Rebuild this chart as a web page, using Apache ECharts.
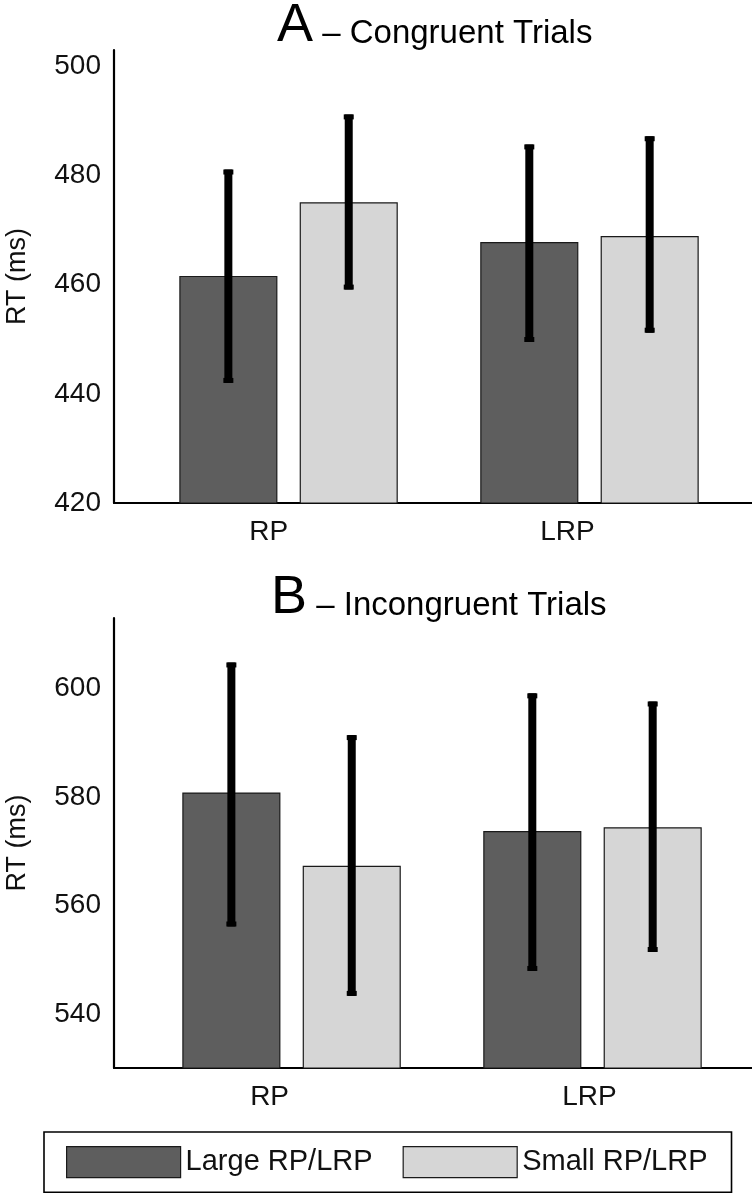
<!DOCTYPE html>
<html><head><meta charset="utf-8">
<script src="https://cdn.jsdelivr.net/npm/echarts@6/dist/echarts.min.js"></script>
<style>html,body{margin:0;padding:0;background:#fff}#c{width:752px;height:1199px}</style>
</head><body><div id="c"></div>
<script>
const categories = ['RP', 'LRP'];
const seriesNames = ['Large RP/LRP', 'Small RP/LRP'];
const congruentLarge = [461.5, 467.7];
const congruentSmall = [475.0, 468.8];
const congruentLargeErrLow = [442.0, 449.5];
const congruentLargeErrHigh = [481.1, 485.7];
const congruentSmallErrLow = [459.1, 451.2];
const congruentSmallErrHigh = [491.2, 487.2];
const incongruentLarge = [580.7, 573.6];
const incongruentSmall = [567.2, 574.3];
const incongruentLargeErrLow = [556.1, 547.9];
const incongruentLargeErrHigh = [604.8, 599.1];
const incongruentSmallErrLow = [543.3, 551.4];
const incongruentSmallErrHigh = [591.4, 597.6];
const congruentTicks = [420, 440, 460, 480, 500];
const incongruentTicks = [540, 560, 580, 600];

const FONT = "'Liberation Sans', Arial, Helvetica, sans-serif";
const DARK = '#5e5e5e', LIGHT = '#d6d6d6';
const BAR_W = 0.322, OFFSET = 0.2;

function rows(vals, lo, hi) {
  return vals.map((v, i) => [i + 1, v, lo[i], hi[i]]);
}
function makeRender(offset) {
  return function (params, api) {
    const x = api.value(0) + offset;
    const top = api.coord([x, api.value(1)]);
    const lo = api.coord([x, api.value(2)]);
    const hi = api.coord([x, api.value(3)]);
    const base = params.coordSys.y + params.coordSys.height;
    const w = api.size([BAR_W, 0])[0];
    return {
      type: 'group',
      children: [
        { type: 'rect', shape: { x: top[0] - w / 2, y: top[1], width: w, height: base - top[1] },
          style: { fill: api.visual('color'), stroke: '#1a1a1a', lineWidth: 1.2 } },
        { type: 'rect', shape: { x: top[0] - 4, y: hi[1], width: 8, height: lo[1] - hi[1] },
          style: { fill: '#000' } },
        { type: 'rect', shape: { x: top[0] - 5, y: hi[1], width: 10, height: 5 }, style: { fill: '#000' } },
        { type: 'rect', shape: { x: top[0] - 5, y: lo[1] - 5, width: 10, height: 5 }, style: { fill: '#000' } }
      ]
    };
  };
}
function xAxisCfg(idx, min, max, labelPos) {
  return {
    gridIndex: idx, type: 'value', min: min, max: max,
    axisLine: { show: true, onZero: false, lineStyle: { color: '#000', width: 2.2 } },
    axisTick: { show: false }, splitLine: { show: false },
    axisLabel: { customValues: labelPos, formatter: v => categories[Math.round(v) - 1],
      fontSize: 28, color: '#111', fontFamily: FONT, margin: 15 }
  };
}
function yAxisCfg(idx, min, max, ticks) {
  return {
    gridIndex: idx, type: 'value', min: min, max: max,
    axisLine: { show: true, onZero: false, lineStyle: { color: '#000', width: 2.2 } },
    axisTick: { show: false }, splitLine: { show: false },
    axisLabel: { customValues: ticks, fontSize: 28, color: '#111', fontFamily: FONT, margin: 13 },
    name: 'RT (ms)', nameLocation: 'middle', nameGap: 83,
    nameTextStyle: { fontSize: 27, color: '#111', fontFamily: FONT }
  };
}
function seriesCfg(name, idx, offset, color, data) {
  return {
    name: name, type: 'custom', xAxisIndex: idx, yAxisIndex: idx,
    itemStyle: { color: color }, renderItem: makeRender(offset),
    encode: { x: 0, y: 1 }, data: data, silent: true
  };
}
function titleRich() {
  return {
    big: { fontSize: 54, fontWeight: 'normal', fontFamily: FONT, color: '#000', verticalAlign: 'bottom' },
    small: { fontSize: 33, fontWeight: 'normal', fontFamily: FONT, color: '#000', verticalAlign: 'bottom', padding: [0, 0, 3, 0] }
  };
}

const chart = echarts.init(document.getElementById('c'), null, { renderer: 'canvas' });
chart.setOption({
  animation: false,
  backgroundColor: '#fff',
  title: [
    { text: '{big|A}{small| – Congruent Trials}', left: 272, top: -6,
      textStyle: { fontWeight: 'normal', rich: titleRich() } },
    { text: '{big|B}{small| – Incongruent Trials}', left: 266, top: 566,
      textStyle: { fontWeight: 'normal', rich: titleRich() } }
  ],
  legend: {
    left: 44, top: 1132,
    data: [
      { name: seriesNames[0], icon: 'rect', itemStyle: { color: DARK, borderColor: '#1a1a1a', borderWidth: 1.2 } },
      { name: seriesNames[1], icon: 'rect', itemStyle: { color: LIGHT, borderColor: '#1a1a1a', borderWidth: 1.2 } }
    ],
    itemWidth: 114, itemHeight: 31, itemGap: 30,
    padding: [14, 24, 14, 22],
    borderColor: '#000', borderWidth: 1.6, borderRadius: 0,
    textStyle: { fontSize: 29, color: '#111', fontFamily: FONT },
    selectedMode: false
  },
  grid: [
    { left: 114, right: 0, top: 50, height: 453, outerBoundsMode: 'none', containLabel: false },
    { left: 114, right: 0, top: 618, height: 450, outerBoundsMode: 'none', containLabel: false }
  ],
  xAxis: [xAxisCfg(0, 0.42, 2.54, [0.934, 1.927]), xAxisCfg(1, 0.41, 2.53, [0.927, 1.99])],
  yAxis: [yAxisCfg(0, 420, 503, congruentTicks), yAxisCfg(1, 530, 613, incongruentTicks)],
  series: [
    seriesCfg(seriesNames[0], 0, -OFFSET, DARK, rows(congruentLarge, congruentLargeErrLow, congruentLargeErrHigh)),
    seriesCfg(seriesNames[1], 0, OFFSET, LIGHT, rows(congruentSmall, congruentSmallErrLow, congruentSmallErrHigh)),
    seriesCfg(seriesNames[0], 1, -OFFSET, DARK, rows(incongruentLarge, incongruentLargeErrLow, incongruentLargeErrHigh)),
    seriesCfg(seriesNames[1], 1, OFFSET, LIGHT, rows(incongruentSmall, incongruentSmallErrLow, incongruentSmallErrHigh))
  ]
});
</script>
</body></html>
